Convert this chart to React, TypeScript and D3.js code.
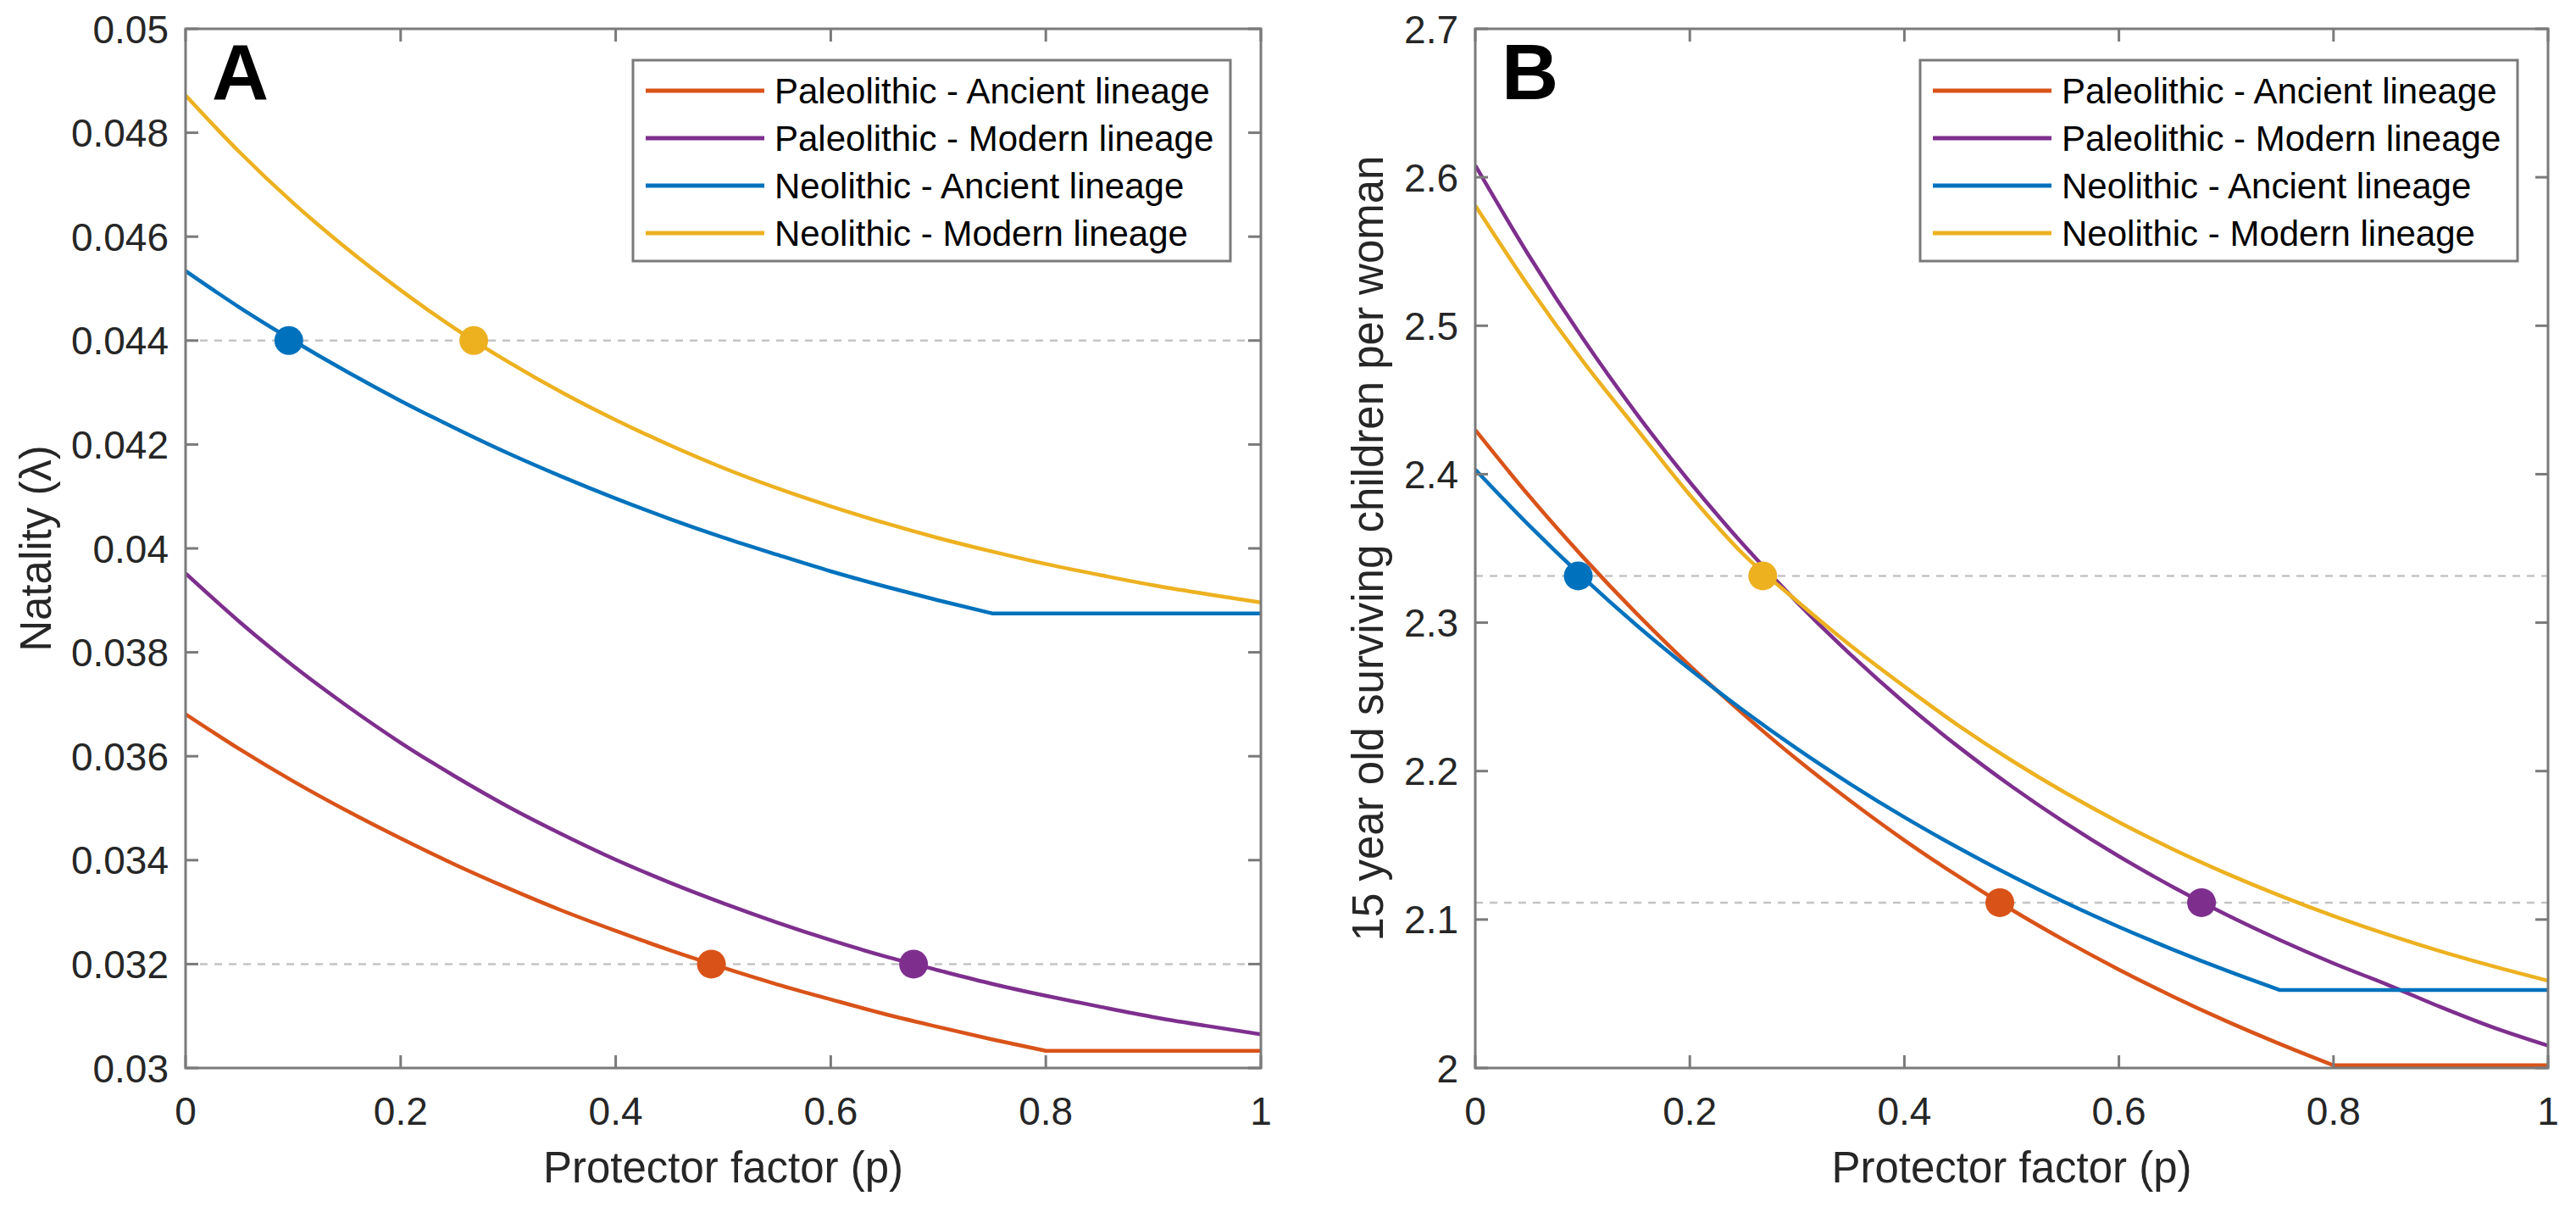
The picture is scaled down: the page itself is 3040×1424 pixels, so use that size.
import React, { useEffect, useRef } from 'react';
import * as d3 from 'd3';

// protector factor grid (p)
const pGrid = [0, 0.05, 0.1, 0.15, 0.2, 0.25, 0.3, 0.35, 0.4, 0.45, 0.5, 0.55, 0.6, 0.65, 0.7, 0.75, 0.8, 0.85, 0.9, 0.95, 1];

const seriesNames = [
  'Paleolithic - Ancient lineage',
  'Paleolithic - Modern lineage',
  'Neolithic - Ancient lineage',
  'Neolithic - Modern lineage',
];
const seriesColors = ['#D95319', '#7E2F8E', '#0072BD', '#EDB120'];

// Panel A: natality (lambda)
const natPaleoAncient = [0.03681, 0.03614, 0.03552, 0.03495, 0.03442, 0.03392, 0.03346, 0.03303, 0.03264, 0.03227, 0.03193, 0.03161, 0.03132, 0.03104, 0.03079, 0.03055, 0.03033, 0.03033, 0.03033, 0.03033, 0.03033];
const natPaleoModern = [0.03952, 0.03859, 0.03774, 0.03697, 0.03626, 0.03562, 0.03503, 0.0345, 0.03401, 0.03357, 0.03317, 0.0328, 0.03246, 0.03215, 0.03188, 0.03162, 0.03139, 0.03118, 0.03098, 0.03081, 0.03065];
const natNeoAncient = [0.04534, 0.04464, 0.044, 0.0434, 0.04284, 0.04232, 0.04183, 0.04138, 0.04096, 0.04057, 0.04021, 0.03988, 0.03956, 0.03927, 0.039, 0.03875, 0.03875, 0.03875, 0.03875, 0.03875, 0.03875];
const natNeoModern = [0.04872, 0.04763, 0.04665, 0.04577, 0.04497, 0.04424, 0.04359, 0.043, 0.04247, 0.04199, 0.04155, 0.04116, 0.04081, 0.04049, 0.0402, 0.03994, 0.0397, 0.03949, 0.03929, 0.03912, 0.03896];

// Panel B: 15 year old surviving children per woman
const kidsPaleoAncient = [2.4298, 2.3855, 2.3445, 2.3064, 2.271, 2.2383, 2.2078, 2.1797, 2.1534, 2.1292, 2.1066, 2.0857, 2.0663, 2.0483, 2.0316, 2.0162, 2.0018, 2.0018, 2.0018, 2.0018, 2.0018];
const kidsPaleoModern = [2.608, 2.5473, 2.4917, 2.441, 2.3947, 2.3524, 2.3137, 2.2784, 2.2461, 2.2166, 2.1897, 2.1651, 2.1426, 2.1221, 2.1033, 2.0862, 2.0705, 2.0562, 2.041, 2.027, 2.015];
const kidsNeoAncient = [2.4031, 2.3656, 2.3308, 2.2985, 2.2686, 2.2408, 2.215, 2.1911, 2.1689, 2.1484, 2.1293, 2.1115, 2.0951, 2.0799, 2.0657, 2.0525, 2.0525, 2.0525, 2.0525, 2.0525, 2.0525];
const kidsNeoModern = [2.581, 2.5263, 2.4764, 2.4309, 2.386, 2.346, 2.3145, 2.2845, 2.257, 2.2309, 2.2071, 2.1854, 2.1656, 2.1475, 2.1311, 2.1161, 2.1024, 2.09, 2.0786, 2.0683, 2.0588];

// highlighted points (same order as series)
const markerP = [0.489, 0.677, 0.096, 0.268];
const markerNat = [0.032, 0.032, 0.044, 0.044];
const markerKids = [2.1114, 2.1114, 2.3315, 2.3315];

// dotted reference levels
const refNat = [0.044, 0.032];
const refKids = [2.3315, 2.1114];

const xTicks = [0, 0.2, 0.4, 0.6, 0.8, 1];
const natTicks = [0.03, 0.032, 0.034, 0.036, 0.038, 0.04, 0.042, 0.044, 0.046, 0.048, 0.05];
const kidsTicks = [2, 2.1, 2.2, 2.3, 2.4, 2.5, 2.6, 2.7];

const FONT = '"Liberation Sans", Arial, Helvetica, sans-serif';
const AXIS_GRAY = '#7a7a7a';
const TEXT = '#262626';

interface PanelSpec {
  letter: string;
  left: number;
  right: number;
  top: number;
  bottom: number;
  yDomain: [number, number];
  yTicks: number[];
  yLabel: string;
  yLabelX: number;
  series: number[][];
  markerY: number[];
  refs: number[];
}

const drawPanel = (svg: d3.Selection<SVGSVGElement, unknown, null, undefined>, spec: PanelSpec) => {
  const x = d3.scaleLinear().domain([0, 1]).range([spec.left, spec.right]);
  const y = d3.scaleLinear().domain(spec.yDomain).range([spec.bottom, spec.top]);
  const g = svg.append('g');
  const clipId = `clip-${spec.letter}`;

  svg.append('defs').append('clipPath').attr('id', clipId)
    .append('rect')
    .attr('x', spec.left).attr('y', spec.top - 4)
    .attr('width', spec.right - spec.left).attr('height', spec.bottom - spec.top + 4);

  // reference dotted lines
  g.selectAll('line.ref')
    .data(spec.refs)
    .enter().append('line')
    .attr('x1', spec.left).attr('x2', spec.right)
    .attr('y1', d => y(d)).attr('y2', d => y(d))
    .attr('stroke', '#c4c4c4')
    .attr('stroke-width', 2.5)
    .attr('stroke-dasharray', '9,8');

  // curves: smooth decay, then a straight run once a curve goes flat
  const smooth = d3.line<[number, number]>()
    .x(d => x(d[0]))
    .y(d => y(d[1]))
    .curve(d3.curveMonotoneX);
  const straight = d3.line<[number, number]>()
    .x(d => x(d[0]))
    .y(d => y(d[1]));

  const pathFor = (vals: number[]) => {
    const pts: [number, number][] = vals.map((v, i) => [pGrid[i], v]);
    const last = vals[vals.length - 1];
    let k = vals.length - 1;
    while (k > 0 && vals[k - 1] === last) k--;
    const head = smooth(pts.slice(0, k + 1)) || '';
    if (k >= vals.length - 1) return head;
    const tail = (straight(pts.slice(k)) || '').replace(/^M/, 'L');
    return head + tail;
  };

  g.append('g').attr('clip-path', `url(#${clipId})`)
    .selectAll('path')
    .data(spec.series)
    .enter().append('path')
    .attr('d', d => pathFor(d))
    .attr('fill', 'none')
    .attr('stroke', (_, i) => seriesColors[i])
    .attr('stroke-width', 4.5)
    .attr('stroke-linejoin', 'round');

  // markers
  g.selectAll('circle')
    .data(markerP)
    .enter().append('circle')
    .attr('cx', d => x(d))
    .attr('cy', (_, i) => y(spec.markerY[i]))
    .attr('r', 17)
    .attr('fill', (_, i) => seriesColors[i]);

  // box
  g.append('rect')
    .attr('x', spec.left).attr('y', spec.top)
    .attr('width', spec.right - spec.left).attr('height', spec.bottom - spec.top)
    .attr('fill', 'none')
    .attr('stroke', AXIS_GRAY)
    .attr('stroke-width', 3);

  // ticks (inward, all four sides)
  const tickLen = 15;
  xTicks.forEach(t => {
    g.append('line').attr('x1', x(t)).attr('x2', x(t)).attr('y1', spec.bottom).attr('y2', spec.bottom - tickLen)
      .attr('stroke', AXIS_GRAY).attr('stroke-width', 3);
    g.append('line').attr('x1', x(t)).attr('x2', x(t)).attr('y1', spec.top).attr('y2', spec.top + tickLen)
      .attr('stroke', AXIS_GRAY).attr('stroke-width', 3);
  });
  spec.yTicks.forEach(t => {
    g.append('line').attr('x1', spec.left).attr('x2', spec.left + tickLen).attr('y1', y(t)).attr('y2', y(t))
      .attr('stroke', AXIS_GRAY).attr('stroke-width', 3);
    g.append('line').attr('x1', spec.right).attr('x2', spec.right - tickLen).attr('y1', y(t)).attr('y2', y(t))
      .attr('stroke', AXIS_GRAY).attr('stroke-width', 3);
  });

  // tick labels
  g.selectAll('text.xt')
    .data(xTicks)
    .enter().append('text')
    .attr('x', d => x(d))
    .attr('y', spec.bottom + 67)
    .attr('text-anchor', 'middle')
    .attr('font-family', FONT)
    .attr('font-size', 46)
    .attr('fill', TEXT)
    .text(d => String(d));

  g.selectAll('text.yt')
    .data(spec.yTicks)
    .enter().append('text')
    .attr('x', spec.left - 20)
    .attr('y', d => y(d))
    .attr('dy', '0.36em')
    .attr('text-anchor', 'end')
    .attr('font-family', FONT)
    .attr('font-size', 46)
    .attr('fill', TEXT)
    .text(d => String(+d.toFixed(3)));

  // axis labels
  g.append('text')
    .attr('x', (spec.left + spec.right) / 2)
    .attr('y', 1395)
    .attr('text-anchor', 'middle')
    .attr('font-family', FONT)
    .attr('font-size', 51)
    .attr('fill', TEXT)
    .text('Protector factor (p)');

  g.append('text')
    .attr('transform', `translate(${spec.yLabelX},${(spec.top + spec.bottom) / 2}) rotate(-90)`)
    .attr('text-anchor', 'middle')
    .attr('font-family', FONT)
    .attr('font-size', 51)
    .attr('fill', TEXT)
    .text(spec.yLabel);

  // panel letter
  g.append('text')
    .attr('x', spec.left + 31)
    .attr('y', 117)
    .attr('font-family', FONT)
    .attr('font-weight', 'bold')
    .attr('font-size', 93)
    .attr('fill', '#000')
    .text(spec.letter);

  // legend
  const lgRight = spec.right - 36;
  const lgLeft = lgRight - 705;
  const lgTop = 71;
  const lg = g.append('g');
  lg.append('rect')
    .attr('x', lgLeft).attr('y', lgTop)
    .attr('width', 705).attr('height', 237)
    .attr('fill', '#fff')
    .attr('stroke', AXIS_GRAY)
    .attr('stroke-width', 3);
  seriesNames.forEach((name, i) => {
    const rowY = 107 + i * 56;
    lg.append('line')
      .attr('x1', lgLeft + 15).attr('x2', lgLeft + 155)
      .attr('y1', rowY).attr('y2', rowY)
      .attr('stroke', seriesColors[i])
      .attr('stroke-width', 5);
    lg.append('text')
      .attr('x', lgLeft + 167)
      .attr('y', rowY)
      .attr('dy', '0.36em')
      .attr('font-family', FONT)
      .attr('font-size', 42)
      .attr('fill', '#000')
      .text(name);
  });
};

const ProtectorCharts: React.FC = () => {
  const svgRef = useRef<SVGSVGElement | null>(null);

  useEffect(() => {
    if (!svgRef.current) return;
    const svg = d3.select(svgRef.current);
    svg.selectAll('*').remove();

    drawPanel(svg, {
      letter: 'A',
      left: 219, right: 1488, top: 34, bottom: 1260,
      yDomain: [0.03, 0.05],
      yTicks: natTicks,
      yLabel: 'Natality (λ)',
      yLabelX: 60,
      series: [natPaleoAncient, natPaleoModern, natNeoAncient, natNeoModern],
      markerY: markerNat,
      refs: refNat,
    });

    drawPanel(svg, {
      letter: 'B',
      left: 1741, right: 3007, top: 34, bottom: 1260,
      yDomain: [2, 2.7],
      yTicks: kidsTicks,
      yLabel: '15 year old surviving children per woman',
      yLabelX: 1632,
      series: [kidsPaleoAncient, kidsPaleoModern, kidsNeoAncient, kidsNeoModern],
      markerY: markerKids,
      refs: refKids,
    });
  }, []);

  return (
    <svg
      ref={svgRef}
      width={3040}
      height={1424}
      style={{ position: 'absolute', left: 0, top: 0, background: '#fff', display: 'block' }}
    />
  );
};

export default function App() {
  return <ProtectorCharts />;
}
